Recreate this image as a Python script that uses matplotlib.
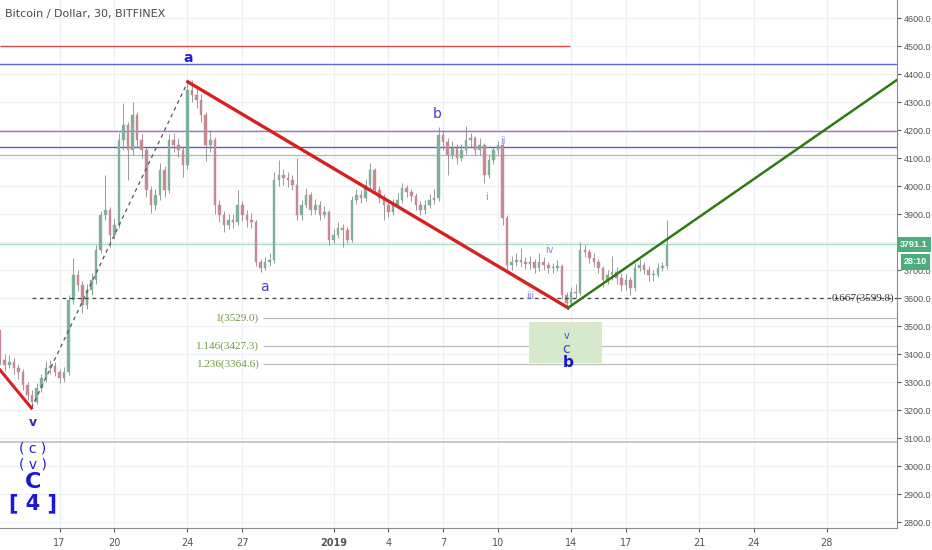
import pandas as pd
import matplotlib
matplotlib.use('Agg')
import matplotlib.pyplot as plt
from matplotlib.patches import Rectangle
import matplotlib.transforms as mtransforms

# 6-hour candles (BTC/USD, Bitfinex)
start = '2018-12-13 18:00'
first_open = 3480
closes = [3379, 3361, 3371, 3350, 3336, 3289, 3254, 3229, 3279, 3314,
          3350, 3357, 3336, 3314, 3336, 3593, 3682, 3646, 3575, 3629,
          3664, 3771, 3896, 3914, 3825, 3861, 4164, 4218, 4129, 4254,
          4164, 4129, 3986, 3932, 3968, 4057, 3986, 4164, 4146, 4129,
          4075, 4343, 4325, 4307, 4254, 4146, 4164, 3932, 3896, 3861,
          3879, 3871, 3932, 3896, 3879, 3871, 3729, 3707, 3729, 3736,
          4021, 4039, 4029, 4021, 4004, 3896, 3932, 3968, 3914, 3932,
          3896, 3907, 3807, 3825, 3850, 3843, 3807, 3950, 3968, 3957,
          4004, 4057, 3986, 3957, 3932, 3907, 3932, 3950, 3993, 3979,
          3964, 3932, 3914, 3932, 3950, 3957, 4182, 4157, 4111, 4136,
          4100, 4129, 4164, 4171, 4129, 4146, 4039, 4093, 4129, 4146,
          3886, 3718, 3729, 3736, 3729, 3721, 3729, 3707, 3729, 3718,
          3707, 3707, 3714, 3611, 3582, 3621, 3618, 3771, 3764, 3743,
          3729, 3707, 3664, 3682, 3693, 3671, 3646, 3664, 3636, 3707,
          3718, 3700, 3682, 3682, 3707, 3714, 3789]
highs = [3490, 3400, 3395, 3385, 3365, 3345, 3300, 3270, 3295, 3330,
         3375, 3380, 3370, 3345, 3355, 3610, 3743, 3700, 3660, 3650,
         3690, 3790, 3910, 4039, 3925, 3885, 4190, 4296, 4230, 4300,
         4265, 4185, 4140, 4000, 3990, 4082, 4070, 4185, 4190, 4170,
         4140, 4378, 4378, 4350, 4330, 4265, 4200, 4175, 3950, 3910,
         3900, 3900, 3986, 3945, 3915, 3905, 3880, 3740, 3745, 3760,
         4050, 4093, 4060, 4050, 4040, 4100, 3950, 3993, 3980, 3955,
         3945, 3930, 3915, 3845, 3870, 3865, 3855, 3965, 3990, 3985,
         4025, 4082, 4065, 4000, 3970, 3945, 3955, 3975, 4010, 4005,
         3990, 3975, 3945, 3950, 3970, 3990, 4211, 4200, 4170, 4160,
         4150, 4150, 4215, 4190, 4180, 4170, 4155, 4110, 4140, 4160,
         4155, 3895, 3750, 3760, 3780, 3745, 3750, 3740, 3760, 3745,
         3730, 3725, 3735, 3720, 3620, 3640, 3650, 3800, 3790, 3775,
         3760, 3740, 3715, 3700, 3750, 3710, 3690, 3685, 3675, 3725,
         3740, 3730, 3715, 3700, 3725, 3730, 3879]
lows = [3360, 3340, 3350, 3330, 3310, 3270, 3235, 3207, 3220, 3265,
        3300, 3330, 3320, 3295, 3300, 3325, 3580, 3625, 3546, 3560,
        3610, 3650, 3760, 3880, 3782, 3810, 3850, 4130, 4021, 4110,
        4140, 4100, 3960, 3904, 3915, 3950, 3960, 3975, 4120, 4105,
        4032, 4060, 4300, 4280, 4230, 4090, 4120, 3900, 3870, 3835,
        3845, 3850, 3860, 3875, 3855, 3850, 3715, 3693, 3700, 3715,
        3725, 4000, 4005, 3995, 3985, 3880, 3880, 3920, 3895, 3900,
        3880, 3885, 3790, 3795, 3815, 3782, 3795, 3800, 3935, 3940,
        3945, 3990, 3970, 3940, 3879, 3890, 3895, 3920, 3940, 3960,
        3945, 3915, 3895, 3900, 3920, 3935, 3945, 4130, 4040, 4095,
        4080, 4090, 4115, 4140, 4110, 4110, 4011, 4030, 4080, 4115,
        3860, 3700, 3700, 3715, 3710, 3705, 3705, 3690, 3695, 3700,
        3690, 3690, 3695, 3595, 3568, 3575, 3600, 3610, 3745, 3725,
        3710, 3690, 3640, 3650, 3665, 3650, 3625, 3630, 3610, 3625,
        3695, 3685, 3660, 3660, 3675, 3695, 3705]

tick_dates = ['2018-12-17', '2018-12-20', '2018-12-24', '2018-12-27', '2019-01-01',
              '2019-01-04', '2019-01-07', '2019-01-10', '2019-01-14', '2019-01-17',
              '2019-01-21', '2019-01-24', '2019-01-28']
tick_labels = ['17', '20', '24', '27', '2019', '4', '7', '10', '14', '17', '21', '24', '28']
price_ticks = list(range(2800, 4700, 100))

h_levels = [4500, 4436, 4196, 4139, 4111, 3087]
h_colors = ['#e04a4a', '#6262e6', '#b064e8', '#5a5ad8', '#b8b8b8', '#c8c8c8']
fib_levels = [3529.0, 3427.3, 3364.6]
fib_labels = ['1(3529.0)', '1.146(3427.3)', '1.236(3364.6)']
last_price = 3791.1
countdown = '28:10'

REF = pd.Timestamp('2018-12-17')


def day(s):
    """Days since Dec 17 2018."""
    return (pd.Timestamp(s) - REF) / pd.Timedelta('1D')


times = pd.date_range(start, periods=len(closes), freq='6h')
xs = [(t - REF) / pd.Timedelta('1D') for t in times]
opens = [first_open] + closes[:-1]

fig = plt.figure(figsize=(9.32, 5.5), dpi=100)
ax = fig.add_axes([0, 22 / 550, 897 / 932, 528 / 550])
x_left, x_right = -3.26, 45.84
ax.set_xlim(x_left, x_right)
ax.set_ylim(2778.6, 4664.3)

# grid
for t in tick_dates:
    ax.axvline(day(t), color='#eef0f5', lw=0.9, zorder=0)
for p in price_ticks:
    ax.axhline(p, color='#eef0f5', lw=0.9, zorder=0)

# candles
for x, o, c, h, l in zip(xs, opens, closes, highs, lows):
    col = '#7fb09a' if c >= o else '#c98893'
    ax.vlines(x, l, h, color='#8a8a8a', lw=0.6, zorder=2)
    ax.add_patch(Rectangle((x - 0.07, min(o, c)), 0.14, max(abs(c - o), 2),
                           facecolor=col, edgecolor=col, lw=0.3, zorder=2))

# horizontal levels
ax.hlines(h_levels[0], x_left, day('2019-01-13 22:30'), color=h_colors[0], lw=1.0, zorder=1)
for lvl, col in zip(h_levels[1:], h_colors[1:]):
    lw = 1.4 if lvl == 3087 else 1.0
    ax.axhline(lvl, color=col, lw=lw, zorder=1)
ax.axhline(last_price, color='#a9dcc3', lw=1.0, zorder=1)

blend = mtransforms.blended_transform_factory(ax.transAxes, ax.transData)

# fib extension lines
fx0 = day('2018-12-28 03:20')
for lvl, lab in zip(fib_levels, fib_labels):
    ax.hlines(lvl, fx0, x_right, color='#bdbdbd', lw=0.9, zorder=1)
    ax.text(fx0 - 0.2, lvl, lab, ha='right', va='center', fontsize=8,
            family='Liberation Serif', color='#6f9a3c')
ax.hlines(3599.8, day('2018-12-15 12:00'), x_right, color='#444444', lw=0.9,
          linestyles=(0, (3, 3)), zorder=3)
ax.text(0.997, 3599.8, '0.667(3599.8)', transform=blend,
        ha='right', va='center', fontsize=8, family='Liberation Serif', color='#333333')

# trend lines
ax.plot([x_left, day('2018-12-15 11:00')], [3343, 3207], color='#d92020', lw=2.2, zorder=4)
ax.plot([day('2018-12-15 11:00'), day('2018-12-24 00:30')], [3207, 4372], color='#555555',
        lw=0.9, ls=(0, (3, 3)), zorder=4)
ax.plot([day('2018-12-24 00:30'), day('2019-01-13 20:00')], [4372, 3565], color='#d92020', lw=2.4, zorder=4)
ax.plot([day('2019-01-13 20:00'), x_right], [3565, 4379], color='#2f7a12', lw=1.8, zorder=4)

# target box
ax.add_patch(Rectangle((day('2019-01-11 17:00'), 3368), day('2019-01-15 16:30') - day('2019-01-11 17:00'),
                       146, facecolor='#d6e9cd', edgecolor='none', zorder=1))


# wave labels
def lab(t, y, s, size=9, color='#5a48d8', weight='normal'):
    ax.text(day(t), y, s, ha='center', va='center', fontsize=size, color=color, fontweight=weight, zorder=5)


lab('2018-12-24 00:30', 4457, 'a', 10, '#1f1fd6', 'bold')
lab('2018-12-28 04:30', 3639, 'a', 10, '#4b3cd0')
lab('2019-01-06 16:00', 4257, 'b', 10, '#4b3cd0')
lab('2019-01-10 06:30', 4161, 'ii', 7, '#8a80e6')
lab('2019-01-09 09:30', 3961, 'i', 7, '#8a80e6')
lab('2019-01-12 19:00', 3771, 'iv', 7, '#8a80e6')
lab('2019-01-11 18:00', 3607, 'iii', 7, '#8a80e6')
lab('2019-01-13 17:30', 3464, 'v', 7, '#4b4bd8')
lab('2019-01-13 17:30', 3418, 'c', 10, '#2b4bd0')
lab('2019-01-13 20:00', 3368, 'b', 11, '#1515d0', 'bold')
lab('2018-12-15 13:00', 3154, 'v', 9, '#2b2bb8', 'bold')
lab('2018-12-15 13:00', 3061, '( c )', 10, '#1f1fc8')
lab('2018-12-15 13:00', 3007, '( v )', 10, '#1f1fc8')
lab('2018-12-15 13:00', 2943, 'C', 16, '#1818d6', 'bold')
lab('2018-12-15 13:00', 2868, '[ 4 ]', 15, '#1818d6', 'bold')

ax.text(0.006, 0.973, 'Bitcoin / Dollar, 30, BITFINEX', transform=ax.transAxes,
        fontsize=8, color='#4a4a4a', va='center', ha='left')

# axes styling
for s in ['top', 'left']:
    ax.spines[s].set_visible(False)
ax.spines['right'].set_color('#8a8a8a')
ax.spines['bottom'].set_color('#8a8a8a')
ax.yaxis.tick_right()
ax.set_yticks(price_ticks)
# the 3800 label sits under the last-price tag, as on the chart
ax.set_yticklabels(['' if p == 3800 else f'{p:.1f}' for p in price_ticks],
                   family='Liberation Sans')
ax.tick_params(axis='y', labelsize=6.5, colors='#555555', length=3, pad=2)
ax.set_xticks([day(t) for t in tick_dates])
ax.set_xticklabels(tick_labels)
ax.tick_params(axis='x', labelsize=7, colors='#555555', length=3, pad=4)
for t in ax.get_xticklabels():
    if t.get_text() == '2019':
        t.set_fontweight('bold')

# price tags on the right axis
ax.text(1.003, last_price, '3791.1', transform=blend, ha='left', va='center', fontsize=6.5,
        family='Liberation Sans', fontweight='bold', color='white',
        bbox=dict(boxstyle='square,pad=0.35', facecolor='#4cae7d', edgecolor='none'),
        clip_on=False, zorder=6)
ax.text(1.008, last_price - 62, countdown, transform=blend, ha='left', va='center', fontsize=6.5,
        family='Liberation Sans', fontweight='bold', color='white',
        bbox=dict(boxstyle='square,pad=0.35', facecolor='#4cae7d', edgecolor='none'),
        clip_on=False, zorder=6)

fig.savefig('out.png', dpi=100)
